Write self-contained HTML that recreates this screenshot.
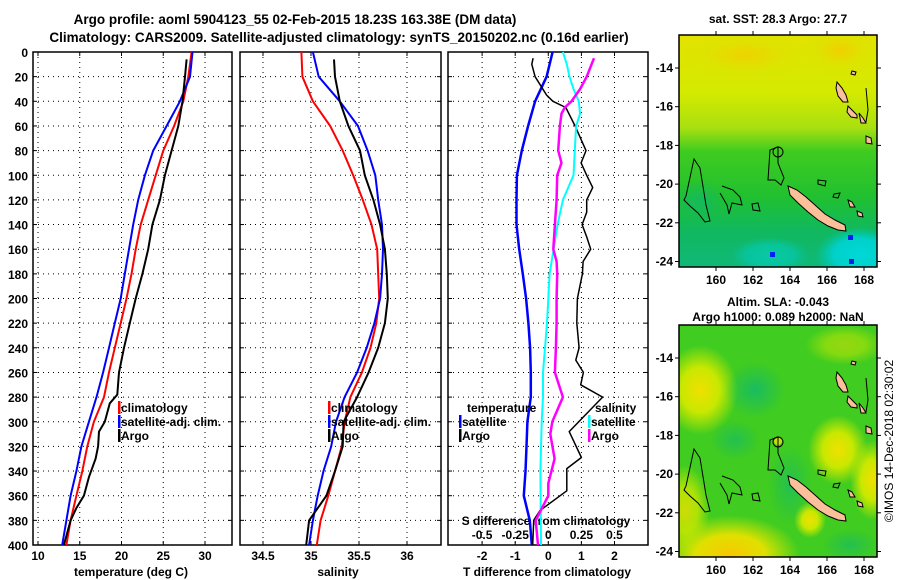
<!DOCTYPE html>
<html><head><meta charset="utf-8"><style>
html,body{margin:0;padding:0;background:#fff;}
svg{display:block;font-family:"Liberation Sans",Arial,sans-serif;font-weight:bold;}
</style></head><body>
<svg id="c" width="900" height="580" viewBox="0 0 900 580" xmlns="http://www.w3.org/2000/svg">
<defs>
<linearGradient id="sstg" x1="0" y1="0" x2="0" y2="1">
<stop offset="0" stop-color="#e4e200"/><stop offset="0.25" stop-color="#d4ea00"/><stop offset="0.4" stop-color="#a8e010"/><stop offset="0.5" stop-color="#40cc20"/><stop offset="0.7" stop-color="#20c030"/><stop offset="0.85" stop-color="#10b860"/><stop offset="1" stop-color="#10b878"/>
</linearGradient>
<radialGradient id="yb"><stop offset="0" stop-color="#f0e000"/><stop offset="0.5" stop-color="#c8e800"/><stop offset="1" stop-color="#c8e800" stop-opacity="0"/></radialGradient>
<radialGradient id="ob"><stop offset="0" stop-color="#f8c800"/><stop offset="0.5" stop-color="#e0e000"/><stop offset="1" stop-color="#d0e800" stop-opacity="0"/></radialGradient>
<radialGradient id="tb"><stop offset="0" stop-color="#10b870"/><stop offset="1" stop-color="#10b870" stop-opacity="0"/></radialGradient>
<radialGradient id="cb"><stop offset="0" stop-color="#00d8d8"/><stop offset="0.6" stop-color="#00d0c8"/><stop offset="1" stop-color="#00c8b0" stop-opacity="0"/></radialGradient>
<clipPath id="m1c"><rect x="679" y="35" width="198" height="232"/></clipPath>
<clipPath id="m2c"><rect x="679" y="325" width="198" height="232"/></clipPath>
</defs>
<text x="295" y="24" text-anchor="middle" font-size="13.5">Argo profile: aoml 5904123_55 02-Feb-2015 18.23S 163.38E (DM data)</text>
<text x="339" y="42" text-anchor="middle" font-size="13.5">Climatology: CARS2009. Satellite-adjusted climatology: synTS_20150202.nc (0.16d earlier)</text>
<g id="g"></g>
</svg>
<script>
// ---------- data ----------
const depths = [0,20,40,60,80,100,120,140,160,180,200,220,240,260,280,300,320,340,360,380,400];
const tempClim = [28.4,28.0,27.4,26.3,25.0,24.1,23.2,22.3,21.7,21.2,20.6,19.9,19.2,18.5,17.9,16.7,15.9,15.3,14.6,13.9,13.4];
const tempSat = [28.5,28.2,27.0,25.4,23.8,22.8,22.0,21.4,20.9,20.4,19.9,19.2,18.5,17.8,17.0,16.1,15.2,14.6,13.9,13.4,12.9];
const argoTempDepths = [6,20,40,60,80,100,120,140,160,180,200,220,240,260,278,285,300,308,320,330,345,360,370,380,400];
const tempArgo = [27.8,27.6,27.3,26.8,26.0,25.2,24.6,23.7,23.2,22.5,21.7,21.0,20.3,19.7,19.5,18.6,18.0,17.3,17.2,16.9,16.1,15.5,14.6,13.9,13.1];
const salClim = [34.90,34.91,35.02,35.20,35.33,35.44,35.54,35.63,35.69,35.70,35.71,35.68,35.62,35.53,35.41,35.35,35.32,35.25,35.18,35.10,35.06];
const salSat = [35.02,35.08,35.30,35.49,35.59,35.67,35.70,35.74,35.75,35.74,35.72,35.66,35.58,35.48,35.35,35.26,35.21,35.13,35.07,35.02,34.98];
const argoSalDepths = [6,20,40,60,80,100,120,140,160,180,200,220,240,260,280,300,320,340,360,380,400];
const salArgo = [35.24,35.25,35.30,35.39,35.51,35.56,35.65,35.72,35.77,35.79,35.80,35.77,35.70,35.60,35.48,35.34,35.33,35.25,35.16,34.98,34.95];
const tDiffSat = [0.13,-0.05,-0.40,-0.61,-0.80,-0.95,-0.96,-0.96,-0.88,-0.77,-0.67,-0.60,-0.55,-0.53,-0.53,-0.63,-0.66,-0.69,-0.74,-0.56,-0.50];
const tDiffArgoDepths = [5,10,20,35,40,45,60,80,90,100,110,120,130,140,150,160,170,180,200,220,240,250,260,270,280,308,329,338,356,372,380,400];
const tDiffArgo = [-0.46,-0.5,-0.40,-0.05,0.14,0.53,0.81,1.14,0.99,1.16,1.34,1.16,1.16,1.02,1.16,1.28,1.05,1.03,0.88,0.86,0.93,0.83,1.06,0.98,1.64,0.63,1.0,0.56,0.56,-0.25,-0.44,-0.47];
const sDiffSatDepths = [0,10,20,30,40,50,60,80,100,110,120,140,160,180,200,220,240,260,280,300,340,400];
const sDiffSat = [0.11,0.14,0.16,0.19,0.23,0.24,0.21,0.20,0.19,0.15,0.11,0.07,0.04,0.01,0.0,-0.01,-0.025,-0.04,-0.04,-0.05,-0.06,-0.055];
const sDiffArgoDepths = [5,20,30,40,45,50,60,80,90,100,120,140,160,170,180,200,220,240,260,280,300,310,330,350,360,380,400];
const sDiffArgo = [0.345,0.29,0.24,0.175,0.125,0.1,0.0875,0.075,0.1,0.0675,0.0625,0.05,0.0375,0.0625,0.0675,0.0625,0.0625,0.0575,0.05,0.11,0.03,0.015,0.0475,0,0,-0.095,-0.0775];
const depthTicks = [0,20,40,60,80,100,120,140,160,180,200,220,240,260,280,300,320,340,360,380,400];
const tempTicks = [10,15,20,25,30];
const salTicks = [34.5,35,35.5,36];
const tDiffTicks = [-2,-1,0,1,2];
const sDiffTicks = [-0.5,-0.25,0,0.25,0.5];
const sDiffTickLabels = ['-0.5','-0.25','0','0.25','0.5'];
const lonTicks = [160,162,164,166,168];
const latTicks = [-14,-16,-18,-20,-22,-24];

// ---------- helpers ----------
const NS='http://www.w3.org/2000/svg';
const G=document.getElementById('g');
function mk(tag,attrs,parent){const e=document.createElementNS(NS,tag);for(const k in attrs)e.setAttribute(k,attrs[k]);(parent||G).appendChild(e);return e;}
const PT=52, PB=545;
function yD(d){return PT+(PB-PT)*d/400;}
function lin(d0,d1,r0,r1){return v=>r0+(v-d0)*(r1-r0)/(d1-d0);}
const xT=lin(10,30,38,205);
const xS=lin(34.5,36,263,407);
const xTd=lin(0,2,548.3,614.5);
const xSd=lin(0,0.5,548.3,614.5);
const panels=[{x0:33,x1:232},{x0:240,x1:441},{x0:448,x1:648}];

function line(xs,ds,vals,color,w,name){
  let p='';
  for(let i=0;i<vals.length;i++){p+=(i?'L':'M')+xs(vals[i]).toFixed(1)+','+yD(ds[i]).toFixed(1);}
  const e=mk('path',{d:p,fill:'none',stroke:color,'stroke-width':w,'stroke-linejoin':'round'});
  
  
}

// frames & grids
panels.forEach((P,pi)=>{
  const gp=mk('g',{});
  
  
  depthTicks.forEach(d=>{
    if(d>0&&d<400) mk('line',{x1:P.x0,x2:P.x1,y1:yD(d),y2:yD(d),stroke:'#000','stroke-width':1,'stroke-dasharray':'1 4'},gp);
    mk('line',{x1:P.x0,x2:P.x0+4,y1:yD(d),y2:yD(d),stroke:'#000','stroke-width':1},gp);
    mk('line',{x1:P.x1-4,x2:P.x1,y1:yD(d),y2:yD(d),stroke:'#000','stroke-width':1},gp);
  });
  const xs = pi==0?tempTicks.map(xT):pi==1?salTicks.map(xS):tDiffTicks.map(xTd);
  xs.forEach(x=>{
    mk('line',{x1:x,x2:x,y1:PT,y2:PB,stroke:'#000','stroke-width':1,'stroke-dasharray':'1 4'},gp);
    mk('line',{x1:x,x2:x,y1:PB-4,y2:PB,stroke:'#000'},gp);
    mk('line',{x1:x,x2:x,y1:PT,y2:PT+4,stroke:'#000'},gp);
  });
  const r=mk('rect',{x:P.x0,y:PT,width:P.x1-P.x0,height:PB-PT,fill:'none',stroke:'#000','stroke-width':1.5});
  
  
});
// depth labels
depthTicks.forEach(d=>{
  const t=mk('text',{x:28,y:yD(d)+5,'text-anchor':'end','font-size':12});
  t.textContent=d;
  
  
});
function xlab(arr,labels,fx,y,name){
  arr.forEach((v,i)=>{const t=mk('text',{x:fx(v),y:y,'text-anchor':'middle','font-size':12});t.textContent=labels?labels[i]:v;
  
  });
}
xlab(tempTicks,null,xT,560,'x-tick-label-temperature');
xlab(salTicks,null,xS,560,'x-tick-label-salinity');
xlab(tDiffTicks,null,xTd,560,'x-tick-label-t-diff');
xlab(sDiffTicks,sDiffTickLabels,xSd,539,'x-tick-label-s-diff');
function ttl(x,y,s,name,anchor){const t=mk('text',{x:x,y:y,'text-anchor':anchor||'middle','font-size':12});t.textContent=s;
  
  return t;}
ttl(131,576,'temperature (deg C)','x-axis-title-temperature');
ttl(338,576,'salinity','x-axis-title-salinity');
ttl(547,576,'T difference from climatology','x-axis-title-t-diff');
ttl(546,525,'S difference from climatology','x-axis-title-s-diff');

// series
line(xT,depths,tempClim,'#f00',2,'temp-climatology-line');
line(xT,depths,tempSat,'#00f',2,'temp-satellite-line');
line(xT,argoTempDepths,tempArgo,'#000',2,'temp-argo-line');
line(xS,depths,salClim,'#f00',2,'sal-climatology-line');
line(xS,depths,salSat,'#00f',2,'sal-satellite-line');
line(xS,argoSalDepths,salArgo,'#000',2,'sal-argo-line');
line(xTd,depths,tDiffSat,'#00f',2.5,'t-diff-satellite-line');
line(xTd,tDiffArgoDepths,tDiffArgo,'#000',1.5,'t-diff-argo-line');
line(xSd,sDiffSatDepths,sDiffSat,'#0ff',2,'s-diff-satellite-line');
line(xSd,sDiffArgoDepths,sDiffArgo,'#f0f',2.5,'s-diff-argo-line');

// legends
function leg(x,y,color,label,name){
  const g=mk('g',{});
  
  
  if(color) mk('rect',{x:x,y:y-11,width:2.5,height:13,fill:color},g);
  const t=mk('text',{x:x+3,y:y,'font-size':12},g);t.textContent=label;
}
leg(118,412,'#f00','climatology','legend-temp-climatology');
leg(118,426,'#00f','satellite-adj. clim.','legend-temp-satellite');
leg(118,440,'#000','Argo','legend-temp-argo');
leg(328,412,'#f00','climatology','legend-sal-climatology');
leg(328,426,'#00f','satellite-adj. clim.','legend-sal-satellite');
leg(328,440,'#000','Argo','legend-sal-argo');
leg(464,412,null,'temperature','legend-temperature-heading');
leg(459,426,'#00f','satellite','legend-tdiff-satellite');
leg(459,440,'#000','Argo','legend-tdiff-argo');
leg(592,412,null,'salinity','legend-salinity-heading');
leg(588,426,'#0ff','satellite','legend-sdiff-satellite');
leg(588,440,'#f0f','Argo','legend-sdiff-argo');

// ---------- maps ----------
const lonX=lin(160,168,716,864);
function latY(lat,top){return top+33+(lat+14)*(-19.35);}
function islands(top,g){
  const o=top-35;
  const sh=(pts,fill)=>mk('polygon',{points:pts.map((p,i)=>i%2?p+o:p).join(' '),fill:fill||'#fbbf9a',stroke:'#000','stroke-width':1},g);
  sh([788,186,797,190,806,197,815,205,825,214,835,220,845,225,846,231,838,230,828,226,818,220,808,212,798,203,790,195]);
  sh([837,82,842,88,846,95,848,102,843,102,838,96,836,88]);
  sh([848,106,852,110,857,115,857,118,851,117,847,112]);
  sh([866,136,871,138,872,144,866,143]);
  sh([848,200,852,202,855,207,850,207]);
  sh([857,211,862,213,863,217,858,216]);
  sh([859,113,863,118,866,123,861,123]);
  sh([852,71,856,72,855,75,851,74]);
  mk('path',{d:`M686,${196+o} L694,${159+o} L700,${168+o} L706,${205+o} L710,${221+o} L705,${222+o} L698,${213+o} L690,${206+o} L684,${200+o} Z`,fill:'none',stroke:'#000','stroke-width':1},g);
  mk('path',{d:`M722,${186+o} L733,${190+o} L740,${197+o} L742,${205+o} L732,${203+o} L729,${214+o} L727,${205+o} L720,${193+o}`,fill:'none',stroke:'#000','stroke-width':1},g);
  mk('path',{d:`M768,${180+o} L770,${150+o} L778,${147+o} L778,${163+o} L784,${178+o} L781,${185+o} L775,${180+o} Z`,fill:'none',stroke:'#000','stroke-width':1},g);
  mk('circle',{cx:778,cy:152+o,r:5,fill:'none',stroke:'#000','stroke-width':1},g);
  mk('path',{d:`M752,${204+o} L758,${203+o} L760,${211+o} L753,${210+o} Z`,fill:'none',stroke:'#000','stroke-width':1},g);
  mk('path',{d:`M818,${180+o} L826,${181+o} L825,${186+o} L818,${184+o} Z`,fill:'none',stroke:'#000','stroke-width':1},g);
  mk('path',{d:`M834,${194+o} L840,${193+o} L838,${198+o} L833,${197+o} Z`,fill:'none',stroke:'#000','stroke-width':1},g);
  mk('path',{d:`M866,${88+o} L868,${110+o} L866,${122+o}`,fill:'none',stroke:'#000','stroke-width':1},g);
}
function mapAxes(top,title1,title2,name){
  const g=mk('g',{});
  
  
  mk('rect',{x:679,y:top,width:198,height:232,fill:'none',stroke:'#000','stroke-width':1.5},g);
  lonTicks.forEach(l=>{const x=lonX(l);mk('line',{x1:x,x2:x,y1:top-4,y2:top,stroke:'#000'},g);mk('line',{x1:x,x2:x,y1:top+232,y2:top+236,stroke:'#000'},g);
    const t=mk('text',{x:x,y:top+249,'text-anchor':'middle','font-size':12},g);t.textContent=l;});
  latTicks.forEach(l=>{const y=latY(l,top);mk('line',{x1:675,x2:679,y1:y,y2:y,stroke:'#000'},g);mk('line',{x1:877,x2:881,y1:y,y2:y,stroke:'#000'},g);
    const t=mk('text',{x:673,y:y+4,'text-anchor':'end','font-size':12},g);t.textContent=l;});
}
// map 1: SST
const m1=mk('g',{'clip-path':'url(#m1c)'});


mk('rect',{x:679,y:35,width:198,height:232,fill:'url(#sstg)'},m1);
mk('ellipse',{cx:745,cy:55,rx:70,ry:25,fill:'url(#ob)',opacity:0.6},m1);
mk('ellipse',{cx:840,cy:50,rx:40,ry:25,fill:'url(#ob)',opacity:0.7},m1);
mk('ellipse',{cx:860,cy:255,rx:45,ry:28,fill:'url(#cb)'},m1);
mk('ellipse',{cx:770,cy:255,rx:40,ry:18,fill:'url(#cb)',opacity:0.5},m1);
mk('ellipse',{cx:700,cy:200,rx:25,ry:20,fill:'url(#tb)',opacity:0.7},m1);
mk('rect',{x:770,y:252,width:5,height:5,fill:'#0020f0'},m1);
mk('rect',{x:849,y:259,width:5,height:5,fill:'#0020f0'},m1);
mk('rect',{x:848,y:235,width:5,height:5,fill:'#0020f0'},m1);
islands(35,m1);
mapAxes(35,'','', 'sst-map');
ttl(778,23,'sat. SST: 28.3 Argo: 27.7','sst-map-title');
// map 2: SLA
const m2=mk('g',{'clip-path':'url(#m2c)'});


mk('rect',{x:679,y:325,width:198,height:232,fill:'#40cc20'},m2);
mk('ellipse',{cx:700,cy:390,rx:38,ry:45,fill:'url(#yb)'},m2);
mk('ellipse',{cx:730,cy:555,rx:70,ry:40,fill:'url(#ob)'},m2);
mk('ellipse',{cx:685,cy:510,rx:25,ry:45,fill:'url(#yb)',opacity:0.8},m2);
mk('ellipse',{cx:838,cy:450,rx:30,ry:35,fill:'url(#yb)'},m2);
mk('ellipse',{cx:872,cy:480,rx:22,ry:40,fill:'url(#yb)'},m2);
mk('ellipse',{cx:810,cy:520,rx:16,ry:18,fill:'url(#yb)'},m2);
mk('ellipse',{cx:845,cy:345,rx:40,ry:20,fill:'url(#yb)',opacity:0.5},m2);
mk('ellipse',{cx:755,cy:390,rx:30,ry:28,fill:'url(#tb)',opacity:0.8},m2);
mk('ellipse',{cx:735,cy:440,rx:25,ry:20,fill:'url(#tb)',opacity:0.6},m2);
mk('ellipse',{cx:790,cy:485,rx:22,ry:40,fill:'url(#tb)',opacity:0.6},m2);
mk('ellipse',{cx:850,cy:545,rx:28,ry:16,fill:'url(#tb)',opacity:0.6},m2);
mk('circle',{cx:778,cy:441,r:4,fill:'#c8e000'},m2);
islands(325,m2);
mapAxes(325,'','', 'sla-map');
ttl(778,306,'Altim. SLA: -0.043','sla-map-title');
ttl(778,321,'Argo h1000: 0.089 h2000: NaN','sla-map-subtitle');
const cr=mk('text',{x:893,y:441,'text-anchor':'middle','font-size':12,'font-weight':'normal',transform:'rotate(-90 893 441)'});
cr.textContent='©IMOS 14-Dec-2018 02:30:02';


</script>
</body></html>
